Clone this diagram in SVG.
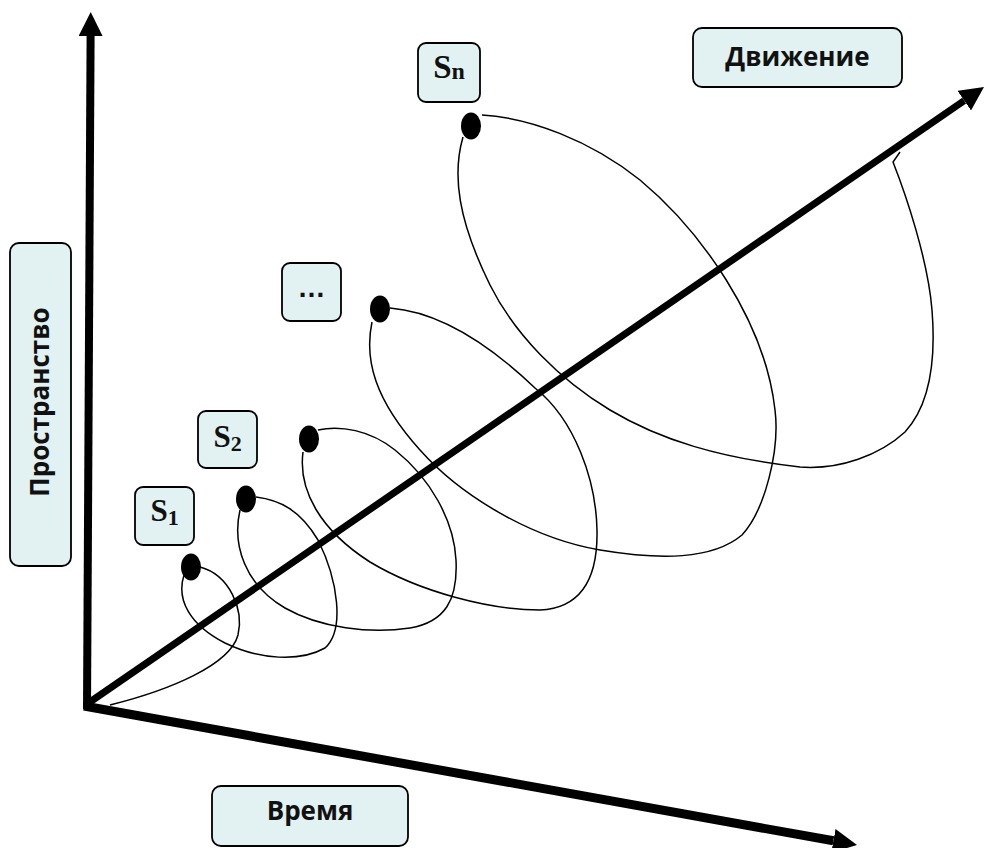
<svg xmlns="http://www.w3.org/2000/svg" width="986" height="848" viewBox="0 0 986 848">
<style>
.box{fill:#E2F2F2;stroke:#000;stroke-width:1.8}
.lbl{font-family:"Open Sans","Noto Sans","DejaVu Sans",sans-serif;font-weight:700;font-size:26px;fill:#111}
.s{font-family:"Liberation Serif","Times New Roman",serif;font-weight:700;font-size:31px;fill:#111}
.sub{font-size:22px}
.axis{stroke:#000;fill:none}
.curve{stroke:#000;stroke-width:1.5;fill:none}
.dot{fill:#000}
</style>
<defs>
<marker id="ah" markerUnits="userSpaceOnUse" markerWidth="24" markerHeight="24" refX="0" refY="12" orient="auto" viewBox="0 0 24 24">
<path d="M0,0 L24,12 L0,24 z" fill="#000"/>
</marker>
</defs>
<g id="connectors">
<line class="axis" x1="87" y1="709" x2="90.6" y2="36" stroke-width="8" marker-end="url(#ah)"/>
<line class="axis" x1="84" y1="706" x2="833.4" y2="840.8" stroke-width="9" marker-end="url(#ah)"/>
<line class="axis" x1="87" y1="704" x2="964.2" y2="100.6" stroke-width="7" marker-end="url(#ah)"/>
<path class="curve" d="M110,705 C170,690 230,665 238,635 C244,610 230,575 200,567"/>
<path class="curve" d="M184,575 C176,600 190,625 225,643 C260,660 300,662 325,648 C345,630 338,580 318,540 C300,510 280,500 256,497"/>
<path class="curve" d="M240,510 C232,545 245,585 285,608 C320,628 370,634 410,628 C445,622 458,600 456,560 C454,520 430,478 395,450 C370,430 340,425 318,430"/>
<path class="curve" d="M303,452 C298,490 320,530 370,562 C420,592 490,610 540,610 C580,608 598,580 597,530 C596,480 575,420 535,388 C490,345 440,312 390,308"/>
<path class="curve" d="M372,322 C364,360 375,400 420,450 C460,495 530,538 600,550 C660,560 712,560 742,535 C765,510 780,450 775,410 C765,320 700,230 640,180 C590,140 530,118 482,115"/>
<path class="curve" d="M463,137 C452,175 458,220 490,285 C515,335 560,380 610,410 C660,440 720,458 800,467 C840,470 880,455 905,432 C930,405 936,360 932,310 C928,260 906,195 893,162 L900,152"/>
</g>
<g id="dot1"><ellipse class="dot" cx="191" cy="567" rx="10" ry="13.5"/></g>
<g id="dot2"><ellipse class="dot" cx="246" cy="499" rx="10" ry="13.5"/></g>
<g id="dot3"><ellipse class="dot" cx="309" cy="439" rx="10" ry="13.5"/></g>
<g id="dot4"><ellipse class="dot" cx="380" cy="309" rx="10" ry="13.5"/></g>
<g id="dot5"><ellipse class="dot" cx="471" cy="126" rx="10" ry="13.5"/></g>
<g id="label-s1"><rect class="box" x="135" y="487" width="59" height="58" rx="8"/><text class="s" x="164.5" y="521" text-anchor="middle">S<tspan class="sub" dy="4">1</tspan></text></g>
<g id="label-s2"><rect class="box" x="198" y="411" width="59" height="57" rx="8"/><text class="s" x="227.5" y="447" text-anchor="middle">S<tspan class="sub" dy="4">2</tspan></text></g>
<g id="label-dots"><rect class="box" x="282" y="263" width="59" height="58" rx="8"/><text class="lbl" x="311.5" y="297" text-anchor="middle" style="font-family:'Liberation Sans',Arial,sans-serif;font-size:28px">…</text></g>
<g id="label-sn"><rect class="box" x="418" y="43" width="62" height="59" rx="8"/><text class="s" x="449" y="78" text-anchor="middle" style="font-size:33px">S<tspan class="sub" dy="1" style="font-size:24px">n</tspan></text></g>
<g id="label-motion"><rect class="box" x="693" y="28" width="209" height="59" rx="9"/><text class="lbl" x="797.5" y="66" text-anchor="middle">Движение</text></g>
<g id="label-time"><rect class="box" x="212" y="786" width="196" height="60" rx="9"/><text class="lbl" x="310" y="820" text-anchor="middle">Время</text></g>
<g id="label-space"><rect class="box" x="10" y="243" width="61" height="323" rx="9"/><text class="lbl" x="49" y="402" text-anchor="middle" transform="rotate(-90 49 402)">Пространство</text></g>
</svg>
